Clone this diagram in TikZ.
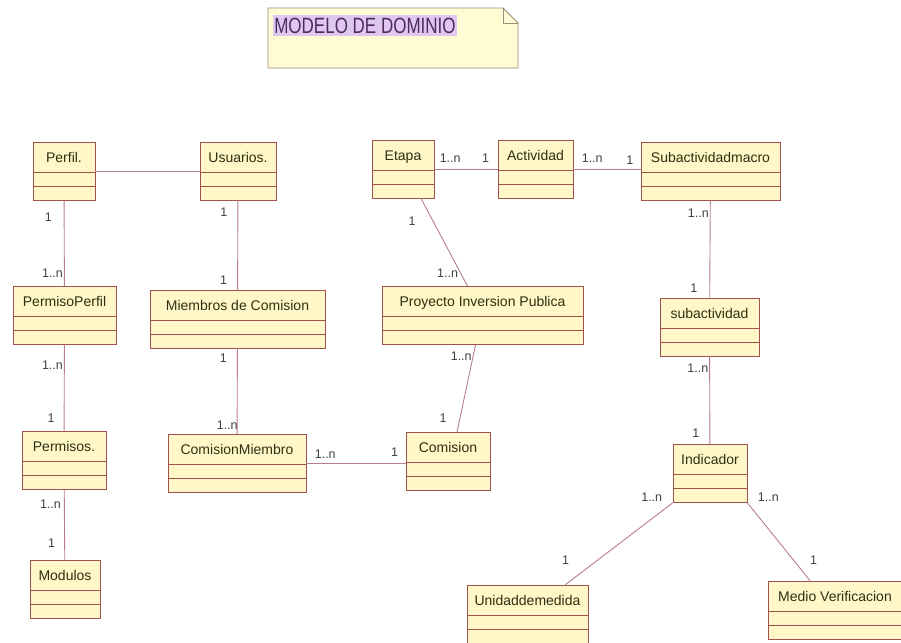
\documentclass[tikz,border=0pt]{standalone}
\usepackage{fontspec}
\setmainfont{Liberation Sans}

\definecolor{bordeclase}{HTML}{A0524F}
\definecolor{fondoclase}{HTML}{FFF7C8}
\definecolor{textoclase}{HTML}{2E2E10}
\definecolor{lineaasoc}{HTML}{B87C8C}
\definecolor{textomult}{HTML}{404040}
\definecolor{fondonota}{HTML}{FFFCD4}
\definecolor{bordenota}{HTML}{9E8C7A}
\definecolor{textonota}{HTML}{4E2A60}
\definecolor{resaltenota}{HTML}{DEC8F0}

\tikzset{
  clase/.style={draw=bordeclase, fill=fondoclase, line width=0.8pt, text=textoclase,
    font=\fontsize{14}{16}\selectfont, minimum width=#1, inner xsep=0pt, inner ysep=0pt,
    text height=20pt, text depth=38pt,
    path picture={
      \draw[bordeclase, line width=0.8pt] ([yshift=-30pt]path picture bounding box.north west) -- ([yshift=-30pt]path picture bounding box.north east);
      \draw[bordeclase, line width=0.8pt] ([yshift=-44pt]path picture bounding box.north west) -- ([yshift=-44pt]path picture bounding box.north east);
    }},
  asoc/.style={draw=lineaasoc, line width=0.9pt},
  mult/.style={font=\fontsize{12.5}{14}\selectfont, text=textomult, inner sep=1pt},
}

\begin{document}
\begin{tikzpicture}[x=1pt, y=-1pt]
    \useasboundingbox (0,0) rectangle (901,642);

    % nota del titulo
    \draw[fill=fondonota, draw=bordenota, line width=0.8pt] (268,8) -- (503,8) -- (518,23) -- (518,68) -- (268,68) -- cycle;
    \draw[draw=bordenota, line width=0.8pt] (503,8) -- (503,23) -- (518,23);
    \node[fill=resaltenota, text=textonota, inner xsep=1pt, inner ysep=3pt, font=\fontsize{17}{19}\selectfont] (titulo) at (365,25.5) {\scalebox{1}[1.3]{MODELO DE DOMINIO}};

    % clases
    \node[clase=62pt] (perfil) at (64,171) {Perfil.};
    \node[clase=76pt] (usuarios) at (238,171) {Usuarios.};
    \node[clase=103pt] (permisoperfil) at (64.5,315.5) {PermisoPerfil};
    \node[clase=175pt] (miembros) at (237.5,319) {Miembros de Comision};
    \node[clase=84pt] (permisos) at (64,460) {Permisos.};
    \node[clase=138pt] (comisionmiembro) at (237,463.5) {ComisionMiembro};
    \node[clase=84pt] (comision) at (448,461.5) {Comision};
    \node[clase=70pt] (modulos) at (65,589) {Modulos};
    \node[clase=62pt] (etapa) at (403,169) {Etapa};
    \node[clase=75pt] (actividad) at (535.5,169) {Actividad};
    \node[clase=139pt] (submacro) at (710.5,171) {Subactividadmacro};
    \node[clase=201pt] (proyecto) at (482.5,315.5) {Proyecto Inversion Publica};
    \node[clase=99pt] (subactividad) at (709.5,327) {subactividad};
    \node[clase=74pt] (indicador) at (710,473.5) {Indicador};
    \node[clase=121pt] (unidad) at (527.5,614) {Unidaddemedida};
    \node[clase=134pt] (medio) at (835,610) {Medio Verificacion};

    % asociaciones
    \draw[asoc] (perfil) -- (usuarios);
    \draw[asoc] (perfil) -- (permisoperfil)
        node[mult, pos=0.2, left=11pt]{1}
        node[mult, pos=0.85, left=0pt]{1..n};
    \draw[asoc] (usuarios) -- (miembros)
        node[mult, pos=0.13, left=9pt]{1}
        node[mult, pos=0.89, left=9pt]{1};
    \draw[asoc] (permisoperfil) -- (permisos)
        node[mult, pos=0.24, left=0pt]{1..n}
        node[mult, pos=0.86, left=8pt]{1};
    \draw[asoc] (permisos) -- (modulos)
        node[mult, pos=0.21, left=2pt]{1..n}
        node[mult, pos=0.76, left=8pt]{1};
    \draw[asoc] (miembros) -- (comisionmiembro)
        node[mult, pos=0.12, left=9pt]{1}
        node[mult, pos=0.9, left=-2pt]{1..n};
    \draw[asoc] (comisionmiembro.east) -- (comisionmiembro.east -| comision.west)
        node[mult, pos=0.19, above=4pt]{1..n}
        node[mult, pos=0.89, above=6pt]{1};
    \draw[asoc] (etapa) -- (actividad)
        node[mult, pos=0.25, above=5pt]{1..n}
        node[mult, pos=0.81, above=5pt]{1};
    \draw[asoc] (actividad.east) -- (actividad.east -| submacro.west)
        node[mult, pos=0.28, above=5pt]{1..n}
        node[mult, pos=0.84, above=3pt]{1};
    \draw[asoc] ([xshift=18pt]etapa.south) -- ([xshift=-15pt]proyecto.north)
        node[mult, pos=0.26, left=16pt]{1}
        node[mult, pos=0.85, left=1pt]{1..n};
    \draw[asoc] ([xshift=-7pt]proyecto.south) -- ([xshift=9pt]comision.north)
        node[mult, pos=0.13, left=0pt]{1..n}
        node[mult, pos=0.84, left=12pt]{1};
    \draw[asoc] (submacro) -- (subactividad)
        node[mult, pos=0.13, left=0pt]{1..n}
        node[mult, pos=0.9, left=11pt]{1};
    \draw[asoc] (subactividad) -- (indicador)
        node[mult, pos=0.14, left=0pt]{1..n}
        node[mult, pos=0.88, left=9pt]{1};
    \draw[asoc] (indicador.south west) -- ([xshift=38pt]unidad.north)
        node[mult, pos=0, anchor=south east, xshift=-9pt]{1..n}
        node[mult, pos=0.7, left=27pt]{1};
    \draw[asoc] (indicador.south east) -- ([xshift=-25pt]medio.north)
        node[mult, pos=0, anchor=south west, xshift=9pt]{1..n}
        node[mult, pos=0.74, right=15pt]{1};
\end{tikzpicture}
\end{document}
